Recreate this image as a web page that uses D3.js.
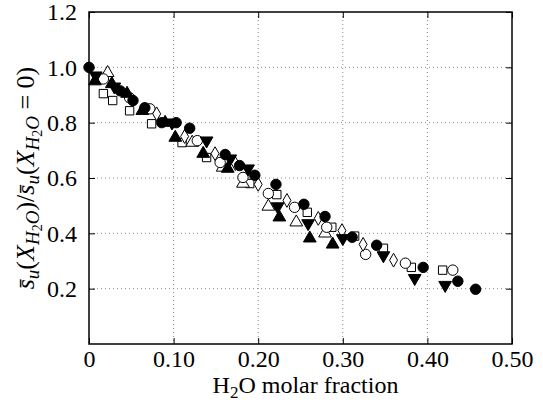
<!DOCTYPE html>
<html>
<head>
<meta charset="utf-8">
<script src="https://d3js.org/d3.v7.min.js"></script>
<style>
  body { margin: 0; background: #fff; }
</style>
</head>
<body>
<div id="chart"></div>
<script>
// tick values
const xTicks = [0, 0.1, 0.2, 0.3, 0.4, 0.5];
const xTickLabels = ["0", "0.10", "0.20", "0.30", "0.40", "0.50"];
const yTicks = [0.2, 0.4, 0.6, 0.8, 1.0, 1.2];

// each series: [H2O fraction, normalised speed]
const filledCircles = [[0.000, 1.00], [0.037, 0.915], [0.052, 0.88], [0.066, 0.854], [0.086, 0.80],
  [0.103, 0.80], [0.119, 0.78], [0.161, 0.685], [0.178, 0.645], [0.196, 0.61], [0.221, 0.577],
  [0.254, 0.505], [0.279, 0.461], [0.311, 0.386], [0.340, 0.357], [0.395, 0.277], [0.436, 0.227],
  [0.457, 0.198]];
const filledUp = [[0.007, 0.95], [0.027, 0.94], [0.045, 0.905], [0.063, 0.843], [0.090, 0.80],
  [0.102, 0.746], [0.135, 0.688], [0.164, 0.634], [0.225, 0.458], [0.261, 0.382], [0.288, 0.36]];
const filledDown = [[0.008, 0.97], [0.030, 0.93], [0.098, 0.80], [0.139, 0.735], [0.167, 0.67],
  [0.188, 0.634], [0.223, 0.497], [0.259, 0.436], [0.300, 0.382], [0.348, 0.32], [0.385, 0.238],
  [0.421, 0.213]];
const openCircles = [[0.017, 0.958], [0.048, 0.89], [0.072, 0.85], [0.128, 0.735], [0.155, 0.656],
  [0.182, 0.602], [0.212, 0.544], [0.243, 0.494], [0.281, 0.422], [0.327, 0.324], [0.374, 0.292],
  [0.430, 0.267]];
const openSquares = [[0.017, 0.905], [0.028, 0.88], [0.048, 0.843], [0.074, 0.796], [0.110, 0.728],
  [0.139, 0.674], [0.190, 0.58], [0.222, 0.54], [0.258, 0.476], [0.287, 0.422], [0.314, 0.39],
  [0.348, 0.346], [0.381, 0.277], [0.418, 0.267]];
const openUp = [[0.022, 0.98], [0.122, 0.728], [0.158, 0.638], [0.182, 0.58], [0.212, 0.497],
  [0.245, 0.44], [0.279, 0.40]];
const openDiamonds = [[0.080, 0.832], [0.113, 0.75], [0.149, 0.688], [0.173, 0.652], [0.200, 0.577],
  [0.234, 0.519], [0.271, 0.454], [0.299, 0.41], [0.324, 0.36], [0.360, 0.303]];

const serif = "'Liberation Serif', 'Times New Roman', serif";

const margin = { top: 12, right: 31, bottom: 59, left: 89 },
  width = 543 - margin.left - margin.right,
  height = 403 - margin.top - margin.bottom;

const svg = d3.select("#chart")
  .append("svg")
  .attr("width", 543)
  .attr("height", 403);

const g = svg.append("g")
  .attr("transform", `translate(${margin.left},${margin.top})`);

const x = d3.scaleLinear().domain([0, 0.5]).range([0, width]);
const y = d3.scaleLinear().domain([0, 1.2]).range([height, 0]);

// dotted grid
g.selectAll(".vgrid")
  .data(xTicks.slice(1, -1))
  .join("line")
  .attr("x1", d => x(d)).attr("x2", d => x(d))
  .attr("y1", 0).attr("y2", height)
  .attr("stroke", "#888").attr("stroke-width", 1)
  .attr("stroke-dasharray", "1,3");
g.selectAll(".hgrid")
  .data(yTicks.slice(0, -1))
  .join("line")
  .attr("x1", 0).attr("x2", width)
  .attr("y1", d => y(d)).attr("y2", d => y(d))
  .attr("stroke", "#888").attr("stroke-width", 1)
  .attr("stroke-dasharray", "1,3");

// axes with inward ticks, mirrored
const tk = 6;
g.append("g")
  .attr("transform", `translate(0,${height})`)
  .call(d3.axisBottom(x).tickValues(xTicks).tickSize(-tk).tickPadding(6)
    .tickFormat((d, i) => xTickLabels[i]))
  .attr("font-family", serif).attr("font-size", 24)
  .call(a => a.select(".domain").remove());
g.append("g")
  .call(d3.axisTop(x).tickValues(xTicks).tickSize(-tk).tickFormat(""))
  .call(a => a.select(".domain").remove());
g.append("g")
  .call(d3.axisLeft(y).tickValues(yTicks).tickSize(-tk).tickPadding(12)
    .tickFormat(d3.format(".1f")))
  .attr("font-family", serif).attr("font-size", 24)
  .call(a => a.select(".domain").remove());
g.append("g")
  .attr("transform", `translate(${width},0)`)
  .call(d3.axisRight(y).tickValues(yTicks).tickSize(-tk).tickFormat(""))
  .call(a => a.select(".domain").remove());

g.append("rect")
  .attr("width", width).attr("height", height)
  .attr("fill", "none").attr("stroke", "#000").attr("stroke-width", 1.5);

// markers
const series = [
  { data: openSquares, type: d3.symbolSquare, size: 70, fill: "#fff" },
  { data: openUp, type: d3.symbolTriangle, size: 70, fill: "#fff" },
  { data: openCircles, type: d3.symbolCircle, size: 85, fill: "#fff" },
  { data: openDiamonds, type: d3.symbolDiamond, size: 55, fill: "#fff" },
  { data: filledUp, type: d3.symbolTriangle, size: 70, fill: "#000" },
  { data: filledDown, type: d3.symbolTriangle, size: 70, fill: "#000", rot: 180 },
  { data: filledCircles, type: d3.symbolCircle, size: 85, fill: "#000" }
];

series.forEach(s => {
  g.append("g")
    .selectAll("path")
    .data(s.data)
    .join("path")
    .attr("d", d3.symbol().type(s.type).size(s.size))
    .attr("transform", d => `translate(${x(d[0])},${y(d[1])})` + (s.rot ? ` rotate(${s.rot})` : ""))
    .attr("fill", s.fill)
    .attr("stroke", "#000")
    .attr("stroke-width", 1);
});

// x label
const xl = svg.append("text")
  .attr("x", margin.left + width / 2 + 5)
  .attr("y", 393)
  .attr("text-anchor", "middle")
  .attr("font-family", serif)
  .attr("font-size", 24);
xl.append("tspan").text("H");
xl.append("tspan").attr("dy", 5).attr("font-size", 17).text("2");
xl.append("tspan").attr("dy", -5).text("O molar fraction");

// y label
const yl = svg.append("text")
  .attr("transform", `translate(34,${margin.top + height / 2}) rotate(-90)`)
  .attr("text-anchor", "middle")
  .attr("font-family", serif)
  .attr("font-size", 26);
const part = (t, opt) => {
  const sp = yl.append("tspan").text(t);
  if (opt && opt.it) sp.attr("font-style", "italic");
  if (opt && opt.fs) sp.attr("font-size", opt.fs);
  if (opt && opt.dy) sp.attr("dy", opt.dy);
  return sp;
};
const sBlock = () => {
  part("s\u0304", { it: true });
  part("u", { it: true, fs: 19, dy: 5 });
  part("(", { dy: -5 });
  part("X", { it: true });
  part("H", { it: true, fs: 19, dy: 5 });
  part("2", { fs: 14, dy: 3 });
  part("O", { it: true, fs: 19, dy: -3 });
};
sBlock();
part(")", { dy: -5 });
part("/");
sBlock();
part(" = 0)", { dy: -5 });
</script>
</body>
</html>
